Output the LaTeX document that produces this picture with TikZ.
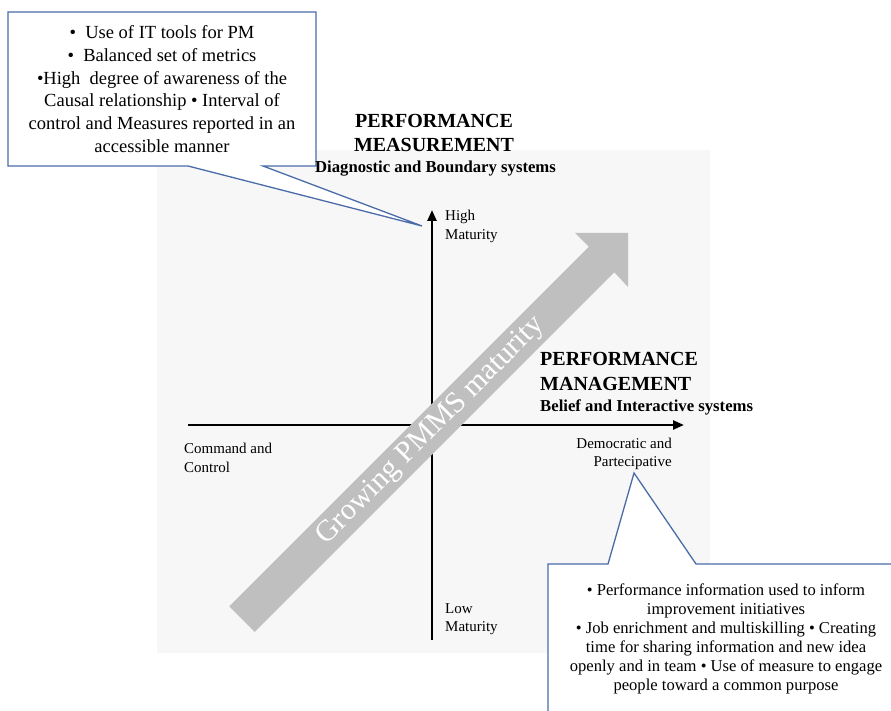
\documentclass[tikz,border=0pt]{standalone}
\usepackage{fontspec}
\setmainfont{Liberation Serif}
\usetikzlibrary{arrows.meta}
\definecolor{bgc}{HTML}{F7F7F7}
\definecolor{arrowgray}{HTML}{BFBFBF}
\definecolor{callc}{HTML}{4A6CA8}
\begin{document}
\begin{tikzpicture}[x=1pt,y=-1pt,
  axisline/.style={line width=2.4pt,-{Triangle[length=11pt,width=9pt]}},
  callout/.style={draw=callc,line width=1.3pt,fill=white,line join=miter},
  boxtext/.style={align=center,inner sep=0pt,font=\fontsize{18.5}{22.7}\selectfont},
  boxtextb/.style={align=center,inner sep=0pt,font=\fontsize{16.6}{19}\selectfont},
  bigtitle/.style={inner sep=0pt,font=\bfseries\fontsize{20}{24.4}\selectfont},
  subtitle/.style={inner sep=0pt,font=\bfseries\fontsize{16.7}{20}\selectfont},
  smalllabel/.style={inner sep=0pt,font=\fontsize{15}{18.5}\selectfont}]
\useasboundingbox (0,0) rectangle (891,711);
\clip (0,0) rectangle (891,711);
\fill[white] (0,0) rectangle (891,711);
% background panel
\fill[bgc] (157,150) rectangle (710,653);
% axes
\coordinate (vbot) at (432,640);
\coordinate (vtop) at (432,210);
\coordinate (hleft) at (188,425);
\coordinate (hright) at (684,425);
\draw[axisline] (vbot) -- (vtop);
\draw[axisline] (hleft) -- (hright);
% growing arrow
\fill[arrowgray] (229.25,606.25) -- (588.75,246.75) -- (575,233) -- (628,233)
  -- (628,287) -- (614.25,272.25) -- (254.75,631.75) -- cycle;
\node[white,rotate=45,inner sep=0pt,font=\fontsize{30}{30}\selectfont] (grow) at (431,431) {Growing PMMS maturity};
% axis labels
\node[smalllabel,align=left,anchor=west] (high) at (445,226.5) {High\\Maturity};
\node[smalllabel,align=left,anchor=west] (low) at (445,619) {Low\\Maturity};
\node[smalllabel,align=left,anchor=west] (cmd) at (184,458) {Command and\\Control};
\node[smalllabel,align=right,anchor=east] (demo) at (672,454) {Democratic and\\Partecipative};
% top-left callout
\coordinate (tlA) at (8,12);
\coordinate (tlB) at (316,12);
\coordinate (tlC) at (316,166);
\coordinate (tlD) at (263,166);
\coordinate (tlTip) at (422,226);
\coordinate (tlE) at (188,166);
\coordinate (tlF) at (8,166);
\draw[callout] (tlA) -- (tlB) -- (tlC) -- (tlD) -- (tlTip) -- (tlE) -- (tlF) -- cycle;
\node[boxtext] (tltext) at (162,89) {•\ \ Use of IT tools for PM\\•\ \ Balanced set of metrics\\•High\ \ degree of awareness of the\\Causal relationship • Interval of\\control and Measures reported in an\\accessible manner};
% bottom-right callout
\coordinate (brA) at (548,720);
\coordinate (brB) at (548,564);
\coordinate (brC) at (608,564);
\coordinate (brTip) at (634,473);
\coordinate (brD) at (696,564);
\coordinate (brE) at (900,564);
\coordinate (brF) at (900,720);
\draw[callout] (brA) -- (brB) -- (brC) -- (brTip) -- (brD) -- (brE) -- (brF) -- cycle;
\node[boxtextb] (brtext) at (726,638.5) {• Performance information used to inform\\improvement initiatives\\• Job enrichment and multiskilling • Creating\\time for sharing information and new idea\\openly and in team • Use of measure to engage\\people toward a common purpose};
% titles
\node[bigtitle,align=center] (pmeas) at (434,133) {PERFORMANCE\\MEASUREMENT};
\node[subtitle,anchor=base] (diag) at (435.5,172.7) {Diagnostic and Boundary systems};
\node[bigtitle,align=left,anchor=west] (pman) at (540,371.6) {PERFORMANCE\\MANAGEMENT};
\node[subtitle,anchor=base west] (belief) at (540,411.7) {Belief and Interactive systems};
\end{tikzpicture}
\end{document}
